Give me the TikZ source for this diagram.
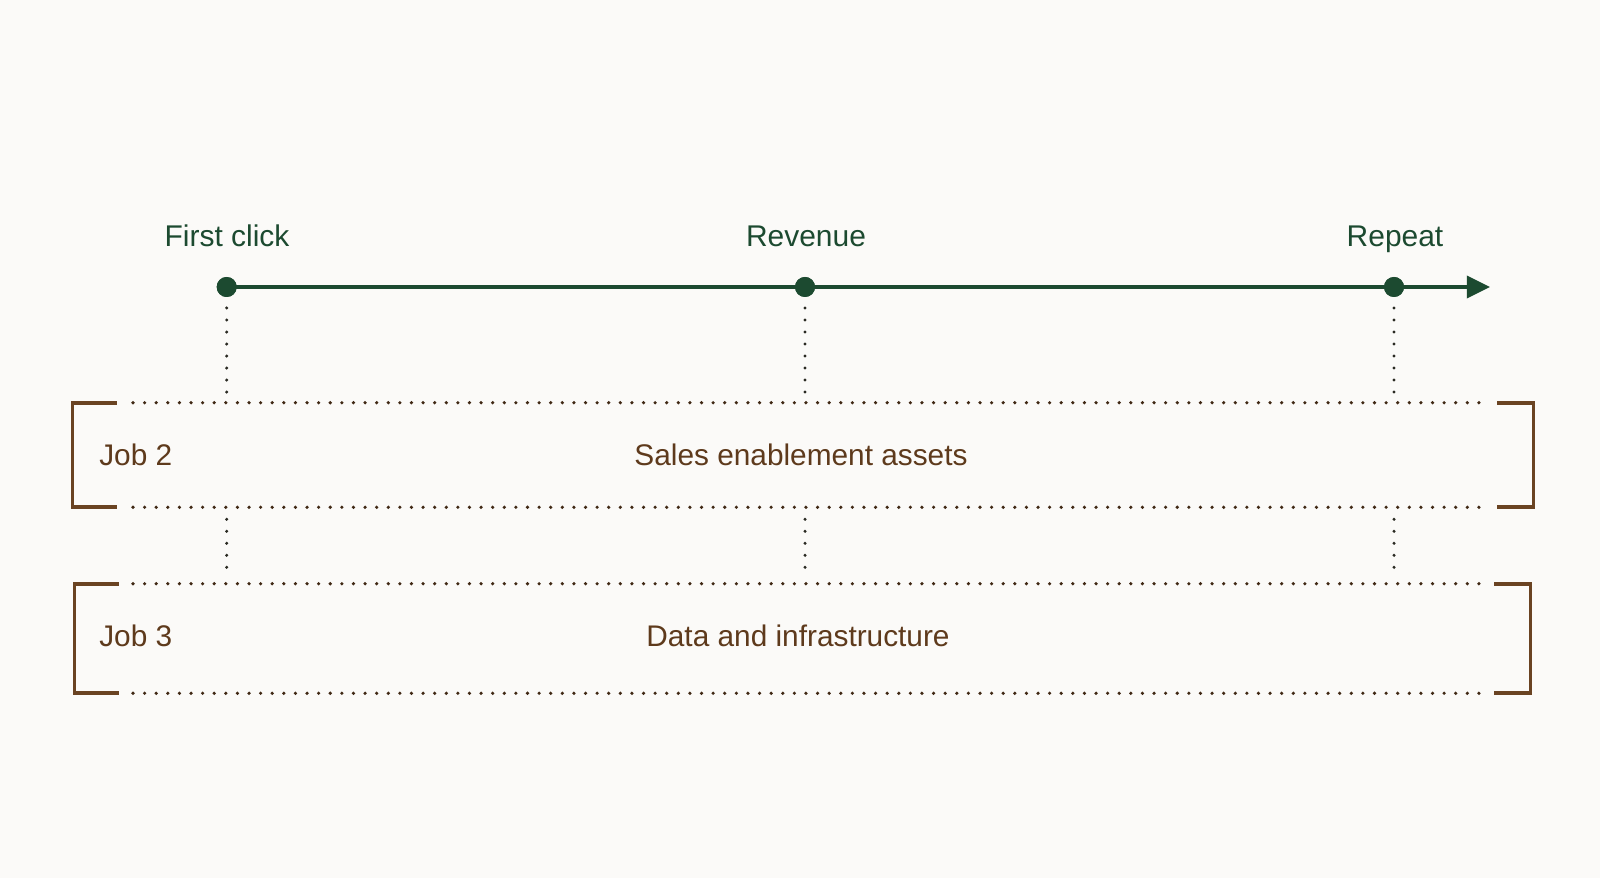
\documentclass[tikz,border=0pt]{standalone}
\usepackage{fontspec}
\setmainfont{Liberation Sans}
\usetikzlibrary{arrows.meta,calc}
\definecolor{bg}{HTML}{FBFAF8}
\definecolor{tlgreen}{HTML}{1C4A30}
\definecolor{jobbrown}{HTML}{6A4322}
\definecolor{txtbrown}{HTML}{5E3A1C}
\definecolor{dotdark}{HTML}{2A2A22}
\begin{document}
\begin{tikzpicture}[x=0.025cm,y=-0.025cm,
  dot/.style={circle,fill=tlgreen,inner sep=0pt,minimum size=0.5cm},
  milestone/.style={text=tlgreen,font=\fontsize{21.3}{24}\selectfont,inner sep=0pt,anchor=base},
  jobtext/.style={text=txtbrown,font=\fontsize{21.2}{24}\selectfont,inner sep=0pt,anchor=base},
  jobbox/.style={draw=none,inner sep=0pt},
  bracket/.style={draw=jobbrown,line width=0.09cm},
  hdots/.style={draw=jobbrown!60!black,line width=0.09cm,line cap=round,dash pattern=on 0pt off 0.29cm},
  vdots/.style={draw=dotdark,line width=0.085cm,line cap=round,dash pattern=on 0pt off 0.3cm},
  timeline/.style={draw=tlgreen,line width=0.1cm,-{Triangle[length=0.58cm,width=0.55cm]}}]
\fill[bg] (0,0) rectangle (1600,878);
\useasboundingbox (0,0) rectangle (1600,878);
% boxes
\node[jobbox,minimum width=36.5cm,minimum height=2.6cm] (j2) at (803,455) {};
\node[jobbox,minimum width=36.375cm,minimum height=2.725cm] (j3) at (802.5,638.5) {};
% timeline
\coordinate (tend) at (1490,287);
\node[dot] (d1) at (226.7,287) {};
\node[dot] (d2) at (805,287) {};
\node[dot] (d3) at (1394,287) {};
\draw[timeline] (d1.center) -- (tend);
\node[dot] at (d1) {};
\node[dot] at (d2) {};
\node[dot] at (d3) {};
\node[milestone] (l1) at (227,247) {First click};
\node[milestone] (l2) at (806,247) {Revenue};
\node[milestone] (l3) at (1395,247) {Repeat};
% vertical dotted connectors
\foreach \d in {d1,d2,d3}{
  \draw[vdots] ($(\d)+(0,21)$) -- ($(\d |- j2.north)+(0,-10)$);
  \draw[vdots] ($(\d |- j2.south)+(0,12)$) -- ($(\d |- j3.north)+(0,-11)$);
}
% brackets and dotted edges
\foreach \b in {j2,j3}{
  \draw[bracket] ($(\b.north west)+(44,0)$) -- (\b.north west) -- (\b.south west) -- ($(\b.south west)+(44,0)$);
  \draw[bracket] ($(\b.north east)+(-36,0)$) -- (\b.north east) -- (\b.south east) -- ($(\b.south east)+(-36,0)$);
  \draw[hdots] (133,0 |- \b.north) -- (1483,0 |- \b.north);
  \draw[hdots] (133,0 |- \b.south) -- (1483,0 |- \b.south);
}
\node[jobtext,anchor=base west] (t2) at (99,466) {Job 2};
\node[jobtext] (s2) at (801,466) {Sales enablement assets};
\node[jobtext,anchor=base west] (t3) at (99,647) {Job 3};
\node[jobtext] (s3) at (798,647) {Data and infrastructure};
\end{tikzpicture}
\end{document}
